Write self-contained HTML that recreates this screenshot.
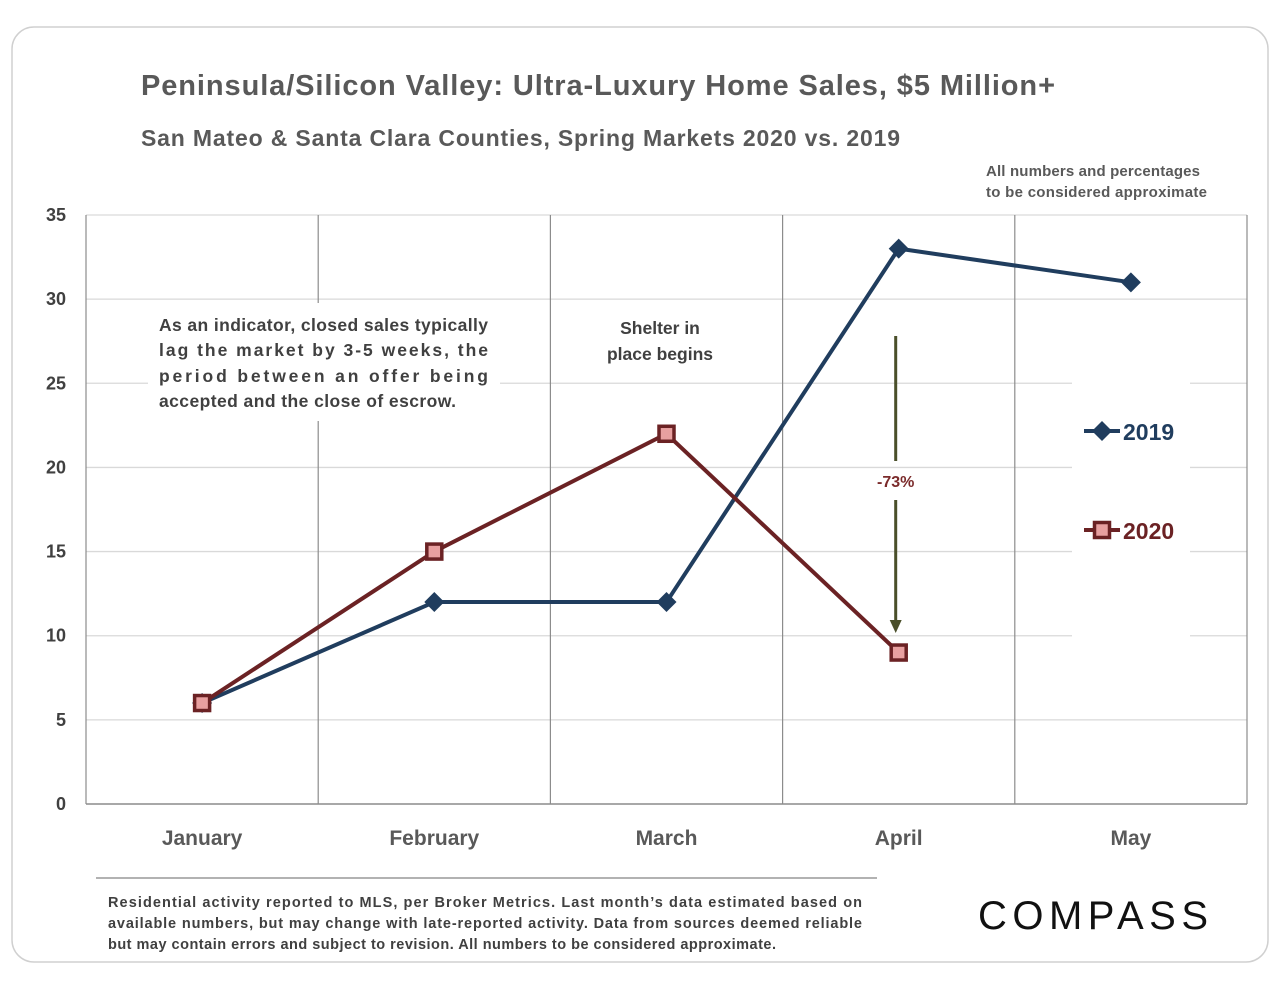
<!DOCTYPE html>
<html><head><meta charset="utf-8"><style>
body{margin:0;background:#fff;}
svg text{font-family:"Liberation Sans",sans-serif;}
</style></head><body>
<svg id="c" width="1280" height="989" xmlns="http://www.w3.org/2000/svg">
<rect x="12" y="27" width="1256" height="935" rx="22" fill="#fff" stroke="#d0d0d0" stroke-width="1.5"/>
<text x="141" y="95" font-size="29" font-weight="bold" fill="#595959" textLength="914">Peninsula/Silicon Valley: Ultra-Luxury Home Sales, $5 Million+</text>
<text x="141" y="146" font-size="23" font-weight="bold" fill="#595959" textLength="759">San Mateo &amp; Santa Clara Counties, Spring Markets 2020 vs. 2019</text>
<text x="986" y="176" font-size="15" font-weight="bold" fill="#595959" textLength="214">All numbers and percentages</text>
<text x="986" y="197" font-size="15" font-weight="bold" fill="#595959" textLength="221">to be considered approximate</text>
<g id="grid"></g>
<g id="ann"></g>
<g id="series"></g>
<line x1="96" y1="878" x2="877" y2="878" stroke="#666" stroke-width="1"/>
<text font-size="14.5" font-weight="bold" fill="#404040">
<tspan x="108" y="907" textLength="754">Residential activity reported to MLS, per Broker Metrics. Last month’s data estimated based on</tspan>
<tspan x="108" y="928" textLength="754">available numbers, but may change with late-reported activity. Data from sources deemed reliable</tspan>
<tspan x="108" y="949" textLength="668">but may contain errors and subject to revision. All numbers to be considered approximate.</tspan>
</text>
<text x="978" y="929" font-size="40" fill="#111" letter-spacing="4" textLength="234">COMPASS</text>
</svg>
<script>
const categories=["January","February","March","April","May"];
const values2019=[6,12,12,33,31];
const values2020=[6,15,22,9];
const yTicks=[0,5,10,15,20,25,30,35];
const NS="http://www.w3.org/2000/svg";
const L=86,R=1247,T=215,B=804,yMax=35;
const band=(R-L)/categories.length;
const x=i=>L+band*(i+0.5);
const y=v=>B-(v/yMax)*(B-T);
function mk(tag,attrs,parent,txt){const e=document.createElementNS(NS,tag);for(const k in attrs)e.setAttribute(k,attrs[k]);if(txt!=null)e.textContent=txt;parent.appendChild(e);return e;}
const g=document.getElementById('grid');
yTicks.forEach(t=>{
 if(t>0){const l=mk('line',{x1:L,x2:R,y1:y(t),y2:y(t),stroke:'#d9d9d9','stroke-width':1.3},g);
 
 }
 const tx=mk('text',{x:66,y:y(t)+6,'font-size':18,'font-weight':'bold',fill:'#404040','text-anchor':'end'},g,t);
 
 
});
for(let i=0;i<=categories.length;i++){
 const l=mk('line',{x1:L+band*i,x2:L+band*i,y1:T,y2:B,stroke:'#8c8c8c','stroke-width':1.2},g);
 
 
}
const ax=mk('line',{x1:L,x2:R,y1:B,y2:B,stroke:'#8c8c8c','stroke-width':1.5},g);


categories.forEach((c,i)=>{
 const t=mk('text',{x:x(i),y:845,'font-size':21,'font-weight':'bold',fill:'#595959','text-anchor':'middle'},g,c);
 
 
});
const a=document.getElementById('ann');
const b1=mk('rect',{x:148,y:303,width:352,height:118,fill:'#fff'},a);


const b2=mk('rect',{x:1072,y:380,width:118,height:320,fill:'#fff'},a);


const note=mk('text',{'font-size':17.5,'font-weight':'bold',fill:'#404040'},a);


[["As an indicator, closed sales typically",331],["lag the market by 3-5 weeks, the",356],["period between an offer being",382],["accepted and the close of escrow.",407]].forEach((l,i)=>{const s=mk('tspan',{x:159,y:l[1]},note,l[0]);if(i<3)s.setAttribute('textLength',329);else s.setAttribute('textLength',297);});
const sh=mk('text',{'font-size':17.5,'font-weight':'bold',fill:'#404040','text-anchor':'middle'},a);


mk('tspan',{x:660,y:334},sh,'Shelter in');
mk('tspan',{x:660,y:360},sh,'place  begins');
const arX=x(3)-3;
const ar1=mk('line',{x1:arX,x2:arX,y1:336,y2:461,stroke:'#4a4f2a','stroke-width':3},a);


const ar2=mk('line',{x1:arX,x2:arX,y1:500,y2:622,stroke:'#4a4f2a','stroke-width':3},a);


const ah=mk('polygon',{points:`${arX-6},620 ${arX+6},620 ${arX},633`,fill:'#4a4f2a'},a);


const pct=mk('text',{x:arX,y:487,'font-size':16,'font-weight':'bold',fill:'#7b2b2b','text-anchor':'middle'},a,'-73%');


const s=document.getElementById('series');
function line(vals,color,name){
 const p=mk('polyline',{points:vals.map((v,i)=>x(i)+','+y(v)).join(' '),fill:'none',stroke:color,'stroke-width':4,'stroke-linejoin':'round'},s);
 
 
}
line(values2019,'#203d5e','line-2019');
line(values2020,'#6b2224','line-2020');
values2019.forEach((v,i)=>{
 const d=mk('polygon',{points:`${x(i)},${y(v)-10} ${x(i)+10},${y(v)} ${x(i)},${y(v)+10} ${x(i)-10},${y(v)}`,fill:'#203d5e'},s);
 
 
});
values2020.forEach((v,i)=>{
 const r=mk('rect',{x:x(i)-7.5,y:y(v)-7.5,width:15,height:15,fill:'#e8a0a0',stroke:'#6b2224','stroke-width':3.5},s);
 
 
});
const lg1=mk('g',{},s);


mk('line',{x1:1084,x2:1120,y1:431,y2:431,stroke:'#203d5e','stroke-width':4},lg1);
mk('polygon',{points:'1102,421 1112,431 1102,441 1092,431',fill:'#203d5e'},lg1);
mk('text',{x:1123,y:440,'font-size':23,'font-weight':'bold',fill:'#203d5e'},lg1,'2019');
const lg2=mk('g',{},s);


mk('line',{x1:1084,x2:1120,y1:530,y2:530,stroke:'#6b2224','stroke-width':4},lg2);
mk('rect',{x:1094.5,y:522.5,width:15,height:15,fill:'#e8a0a0',stroke:'#6b2224','stroke-width':3.5},lg2);
mk('text',{x:1123,y:539,'font-size':23,'font-weight':'bold',fill:'#6b2224'},lg2,'2020');
</script>
</body></html>
